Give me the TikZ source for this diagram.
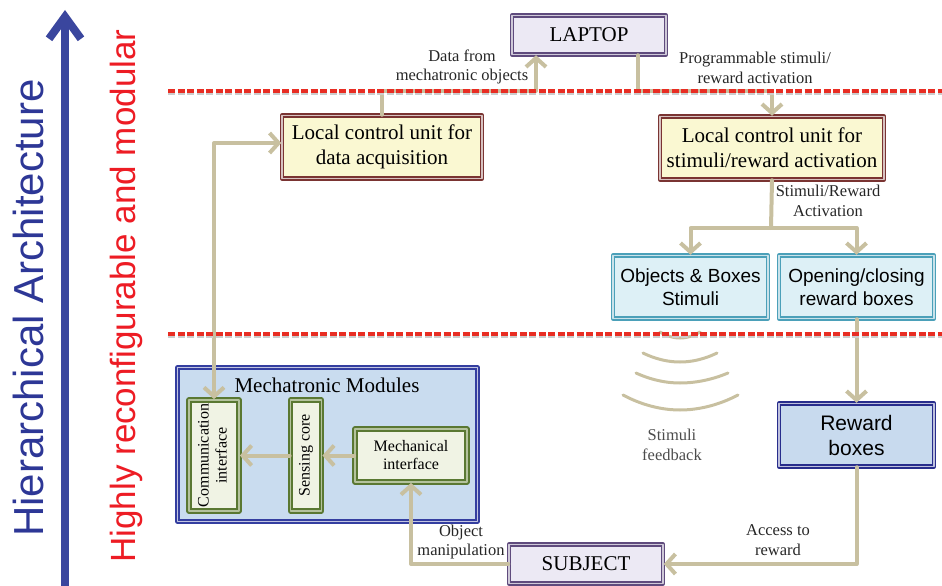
\documentclass[tikz,border=0pt]{standalone}
\usepackage{fontspec}
\usepackage{graphicx}
\setmainfont{Liberation Serif}
\setsansfont{Liberation Sans}
\usetikzlibrary{arrows.meta}
\definecolor{connc}{RGB}{200,192,160}
\definecolor{archblue}{RGB}{58,70,158}
\definecolor{txtblue}{RGB}{45,55,150}
\definecolor{txtred}{RGB}{237,28,36}
\definecolor{dashred}{RGB}{232,45,35}
\definecolor{pcline}{RGB}{95,75,125}
\definecolor{pcfill}{RGB}{236,233,244}
\definecolor{lculine}{RGB}{122,52,50}
\definecolor{lcufill}{RGB}{250,248,210}
\definecolor{stimline}{RGB}{75,160,185}
\definecolor{stimfill}{RGB}{221,240,246}
\definecolor{rewline}{RGB}{40,45,140}
\definecolor{rewfill}{RGB}{200,218,238}
\definecolor{modline}{RGB}{52,62,160}
\definecolor{modfill}{RGB}{201,220,239}
\definecolor{partline}{RGB}{90,120,50}
\definecolor{partfill}{RGB}{240,243,228}
\tikzset{
  box/.style={double, line width=1.5pt, double distance=1.6pt, inner sep=0pt, align=center},
  pcbox/.style={box, draw=pcline, double=pcline!30!white, fill=pcfill, minimum width=154pt, minimum height=39pt, font=\fontsize{21}{25}\selectfont},
  lcubox/.style={box, draw=lculine, double=lculine!30!white, fill=lcufill, minimum height=63pt, font=\fontsize{21}{25}\selectfont},
  stimbox/.style={box, draw=stimline, double=stimline!30!white, fill=stimfill, minimum width=155pt, minimum height=63pt, font=\sffamily\fontsize{19}{23}\selectfont},
  rewbox/.style={box, draw=rewline, double=rewline!30!white, fill=rewfill, minimum width=155pt, minimum height=63pt, font=\sffamily\fontsize{21}{25}\selectfont},
  modbox/.style={box, draw=modline, double=modline!30!white, fill=modfill, minimum width=300pt, minimum height=154pt},
  partbox/.style={box, line width=1.8pt, draw=partline, double=partfill!60!partline, fill=partfill, font=\fontsize{16}{18}\selectfont},
  lbl/.style={align=center, inner sep=0pt, text=black!85, font=\fontsize{16.5}{19.5}\selectfont},
  conn/.style={draw=connc, line width=4pt},
  dashline/.style={draw=dashred, line width=3.5pt, line cap=butt, dash pattern=on 7pt off 2.5pt},
  dashshadow/.style={draw=black!20, line width=3.5pt, line cap=butt, dash pattern=on 7pt off 2.5pt}
}
\begin{document}
\begin{tikzpicture}[x=1pt, y=-1pt, line join=round, line cap=round, >={Straight Barb[length=9pt,width=20pt]}]
    \useasboundingbox (0,0) rectangle (942,586);
    \draw[archblue, line width=8pt, -{Straight Barb[length=22pt,width=32pt]}] (65,590) -- (65,10);
    \node[rotate=90, anchor=base, text=txtblue, font=\sffamily\fontsize{42}{42}\selectfont] (hier) at (43,308) {Hierarchical Architecture};
    \node[rotate=90, anchor=base, text=txtred, font=\sffamily\fontsize{35}{35}\selectfont] (modular) at (135,296) {Highly reconfigurable and modular};
    \node[pcbox] (laptop) at (589,35) {LAPTOP};
    \node[pcbox] (subject) at (586,564) {SUBJECT};
    \node[lcubox, minimum width=200pt] (acq) at (382,147) {Local control unit for\\data acquisition};
    \node[lcubox, minimum width=224pt] (stim) at (772,148) {Local control unit for\\stimuli/reward activation};
    \node[stimbox] (objs) at (690.5,287) {Objects \& Boxes\\Stimuli};
    \node[stimbox] (open) at (856.5,287) {Opening/closing\\reward boxes};
    \node[rewbox] (reward) at (856.5,435) {Reward\\boxes};
    \node[modbox] (mods) at (327.5,444.5) {};
    \node[font=\fontsize{21}{25}\selectfont, inner sep=0pt] (modlbl) at (327,385) {Mechatronic Modules};
    \node[partbox, minimum width=50pt, minimum height=111pt] (comm) at (214,455.5) {\rotatebox{90}{\begin{tabular}{@{}c@{}}Communication\\interface\end{tabular}}};
    \node[partbox, minimum width=31pt, minimum height=111pt] (sense) at (306,455.5) {\rotatebox{90}{Sensing core}};
    \node[partbox, minimum width=112pt, minimum height=53pt] (mechint) at (411,455.5) {Mechanical\\interface};
    \node[lbl] (datalbl) at (462,67) {Data from\\mechatronic objects};
    \node[lbl] (proglbl) at (755,68) {Programmable stimuli/\\reward activation};
    \node[lbl] (actlbl) at (828,201) {Stimuli/Reward\\Activation};
    \node[lbl] (manlbl) at (461,542) {Object\\manipulation};
    \node[lbl] (acclbl) at (778,540) {Access to\\reward};
    \node[lbl, text=black!70] (feedlbl) at (672,445) {Stimuli\\feedback};
    \coordinate (upa) at (536,91);
    \coordinate (dna) at (638,91);
    \coordinate (split) at (771,228);
    \draw[conn,->] (acq.north) |- (upa) -- (upa |- laptop.south);
    \draw[conn,->] (dna |- laptop.south) -- (dna) -| (stim.north);
    \draw[conn,<->] (comm.north) |- ([yshift=4pt]acq.west);
    \draw[conn] (stim.south) -- (split);
    \draw[conn,->] (split) -| (objs.north);
    \draw[conn,->] (split) -| (open.north);
    \draw[conn,->] (open.south) -- (reward.north);
    \draw[conn,->] (reward.south) |- (subject.east);
    \draw[conn,->] (subject.west) -| (mechint.south);
    \draw[conn,->] (mechint.west) -- (sense.east);
    \draw[conn,->] (sense.west) -- (comm.east);
    \foreach \xa/\xb/\ya/\yb in {660/700/332/338, 643/717/353/362, 636/728/373/383, 623/738/395/410}
        \draw[connc, line width=3pt] (\xa,\ya) parabola bend (680,\yb) (\xb,\ya);
    \foreach \y in {91,334} {
        \draw[dashshadow] (168,\y+2) -- (942,\y+2);
        \draw[dashline] (168,\y) -- (942,\y);
    }
\end{tikzpicture}
\end{document}
